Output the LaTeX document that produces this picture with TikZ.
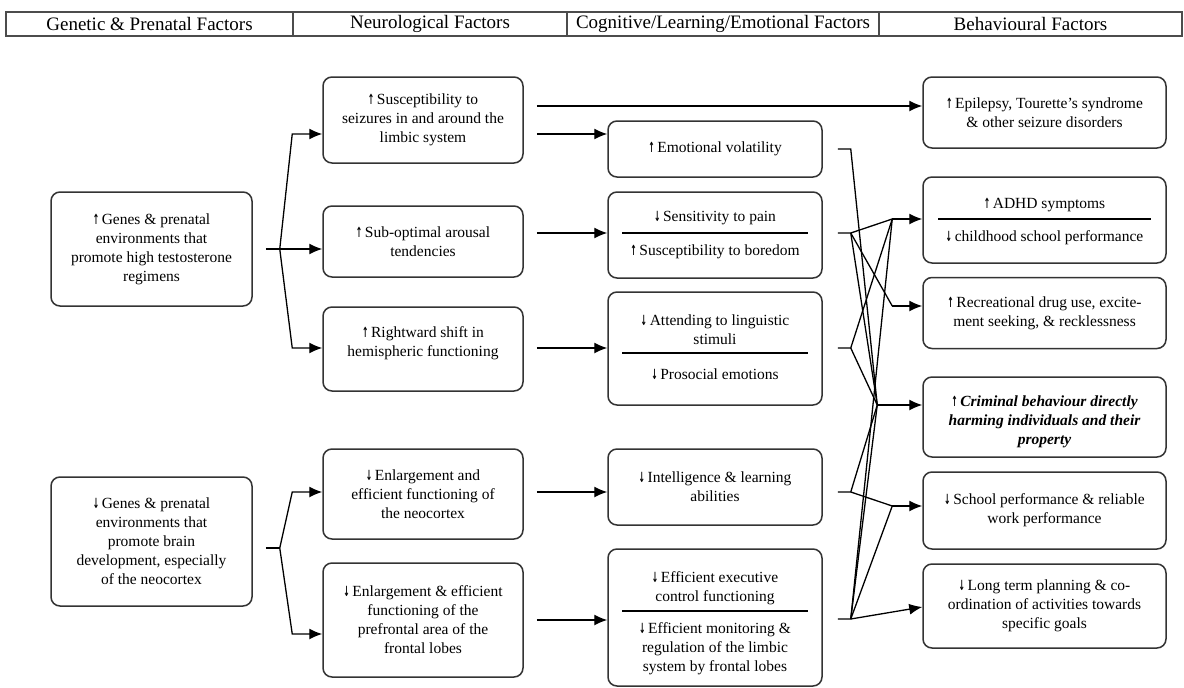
\documentclass[tikz,border=0pt]{standalone}
\usepackage{graphicx}
\usepackage{fontspec}
\setmainfont{Liberation Serif}
\newfontfamily\arwfont{DejaVu Sans}
\usetikzlibrary{arrows.meta,
	calc,
	positioning}
\newcommand{\upa}{\scalebox{0.55}[1]{\arwfont\bfseries\fontsize{14}{14}\selectfont ↑}\,}
\newcommand{\dna}{\scalebox{0.55}[1]{\arwfont\bfseries\fontsize{14}{14}\selectfont ↓}\,}
\tikzstyle{hd}=[draw=black!70, line width=1.2pt, inner sep=0, minimum height=24pt,
		font=\fontsize{19}{22}\selectfont]
\tikzstyle{bx}=[draw=black!80, line width=1.5pt, rounded corners=9pt, inner sep=0,
		align=center, font=\fontsize{15.5}{19}\selectfont]
\tikzstyle{tx}=[inner sep=0, align=center, font=\fontsize{15.5}{19}\selectfont]
\tikzstyle{dv}=[line width=1.3pt]
\tikzstyle{ln}=[line width=1.3pt]
\tikzstyle{ar}=[line width=1.3pt, -{Latex[length=13pt,width=11pt]}]

\begin{document}
\begin{tikzpicture}[x=1pt,y=-1pt]
                \useasboundingbox (0,0) rectangle (1184,688);
                % header row
                \node[hd, minimum width=287pt] (h1) at (149.5,24) {Genetic \& Prenatal Factors};
                \node[hd, minimum width=274pt] (h2) at (430,24) {Neurological Factors};
                \node[hd, minimum width=312pt] (h3) at (723,24) {Cognitive/Learning/Emotional Factors};
                \node[hd, minimum width=303pt] (h4) at (1030.5,24) {Behavioural Factors};
                % genetic & prenatal
                \node[bx, minimum width=201pt, minimum height=114pt] (g1) at (151.5,249) {\upa Genes \& prenatal\\ environments that\\ promote high testosterone\\ regimens};
                \node[bx, minimum width=201pt, minimum height=129pt] (g2) at (151.5,541.5) {\dna Genes \& prenatal\\ environments that\\ promote brain\\ development, especially\\ of the neocortex};
                % neurological
                \node[bx, minimum width=200pt, minimum height=86pt] (n1) at (423,120) {\upa Susceptibility to\\ seizures in and around the\\ limbic system};
                \node[bx, minimum width=200pt, minimum height=71pt] (n2) at (423,241.5) {\upa Sub-optimal arousal\\ tendencies};
                \node[bx, minimum width=200pt, minimum height=84pt] (n3) at (423,349) {};
                \node[tx] (n3t) at (423,343) {\upa Rightward shift in\\ hemispheric functioning};
                \node[bx, minimum width=200pt, minimum height=90pt] (n4) at (423,494) {\dna Enlargement and\\ efficient functioning of\\ the neocortex};
                \node[bx, minimum width=200pt, minimum height=114pt] (n5) at (423,620) {\dna Enlargement \& efficient\\ functioning of the\\ prefrontal area of the\\ frontal lobes};
                % cognitive / learning / emotional
                \node[bx, minimum width=214pt, minimum height=56pt] (c1) at (715,149) {\upa Emotional volatility};
                \node[bx, minimum width=214pt, minimum height=86pt] (c2) at (715,235) {};
                \node[tx] (c2a) at (715,218) {\dna Sensitivity to pain};
                \node[tx] (c2b) at (715,252) {\upa Susceptibility to boredom};
                \draw[dv] ($(c2.west)+(15,-2)$) -- ($(c2.east)+(-15,-2)$);
                \node[bx, minimum width=214pt, minimum height=113pt] (c3) at (715,348.5) {};
                \node[tx] (c3a) at (715,330) {\dna Attending to linguistic\\ stimuli};
                \node[tx] (c3b) at (715,374) {\dna Prosocial emotions};
                \draw[dv] ($(c3.west)+(15,4.5)$) -- ($(c3.east)+(-15,4.5)$);
                \node[bx, minimum width=214pt, minimum height=76pt] (c4) at (715,487) {\dna Intelligence \& learning\\ abilities};
                \node[bx, minimum width=214pt, minimum height=137pt] (c5) at (715,617.5) {};
                \node[tx] (c5a) at (715,588) {\dna Efficient executive\\ control functioning};
                \node[tx] (c5b) at (715,649) {\dna Efficient monitoring \&\\ regulation of the limbic\\ system by frontal lobes};
                \draw[dv] ($(c5.west)+(15,-6.5)$) -- ($(c5.east)+(-15,-6.5)$);
                % behavioural
                \node[bx, minimum width=243pt, minimum height=71pt] (b1) at (1044.5,112.5) {\upa Epilepsy, Tourette’s syndrome\\ \& other seizure disorders};
                \node[bx, minimum width=243pt, minimum height=86pt] (b2) at (1044.5,220) {};
                \node[tx] (b2a) at (1044.5,205) {\upa ADHD symptoms};
                \node[tx] (b2b) at (1044.5,238) {\dna childhood school performance};
                \draw[dv] ($(b2.west)+(16,-1)$) -- ($(b2.east)+(-16,-1)$);
                \node[bx, minimum width=243pt, minimum height=71pt] (b3) at (1044.5,313) {\upa Recreational drug use, excite-\\ ment seeking, \& recklessness};
                \node[bx, minimum width=243pt, minimum height=80pt] (b4) at (1044.5,417) {};
                \node[tx, font=\fontsize{15.5}{19}\selectfont\bfseries\itshape] (b4t) at (1044.5,422) {{\upshape\upa}Criminal behaviour directly\\ harming individuals and their\\ property};
                \node[bx, minimum width=243pt, minimum height=77pt] (b5) at (1044.5,510.5) {\dna School performance \& reliable\\ work performance};
                \node[bx, minimum width=243pt, minimum height=84pt] (b6) at (1044.5,606) {\dna Long term planning \& co-\\ ordination of activities towards\\ specific goals};
                % genetic -> neurological
                \coordinate (g1j) at ($(g1.east)+(27,0)$);
                \draw[ln] ($(g1.east)+(13,0)$) -- (g1j);
                \draw[ar] (g1j) -- ($(n1.west)+(-30,14)$) -- ($(n1.west)+(0,14)$);
                \draw[ar] (g1j) -- (n2.west |- g1j);
                \draw[ar] (g1j) -- ($(n3.west)+(-30,-1)$) -- ($(n3.west)+(0,-1)$);
                \coordinate (g2j) at ($(g2.east)+(27,6.5)$);
                \draw[ln] ($(g2.east)+(13,6.5)$) -- (g2j);
                \draw[ar] (g2j) -- ($(n4.west)+(-30,-2)$) -- ($(n4.west)+(0,-2)$);
                \draw[ar] (g2j) -- ($(n5.west)+(-30,14)$) -- ($(n5.west)+(0,14)$);
                % neurological -> cognitive
                \draw[ar] ($(n1.east)+(13,-14)$) -- ($(b1.west)+(0,-6.5)$);
                \draw[ar] ($(n1.east)+(13,14)$) -- ($(c1.west)+(0,-15)$);
                \draw[ar] ($(n2.east)+(13,-8.5)$) -- ($(c2.west)+(0,-2)$);
                \draw[ar] ($(n3.east)+(13,-1)$) -- ($(c3.west)+(0,-0.5)$);
                \draw[ar] ($(n4.east)+(13,-2)$) -- ($(c4.west)+(0,5)$);
                \draw[ar] ($(n5.east)+(13,0)$) -- ($(c5.west)+(0,2.5)$);
                % forks on the cognitive side
                \coordinate (fc1) at ($(c1.east)+(28,0)$);
                \coordinate (fc2) at ($(c2.east)+(28,-2)$);
                \coordinate (fc3) at ($(c3.east)+(28,-0.5)$);
                \coordinate (fc4) at ($(c4.east)+(28,5)$);
                \coordinate (fc5) at ($(c5.east)+(28,1.5)$);
                % joins on the behavioural side
                \coordinate (adj) at ($(b2.west)+(-30,-1)$);
                \coordinate (rcj) at ($(b3.west)+(-30,-7)$);
                \coordinate (crj) at ($(b4.west)+(-45,-12)$);
                \coordinate (scj) at ($(b5.west)+(-30,-4.5)$);
                \draw[ar] (adj) -- (adj -| b2.west);
                \draw[ar] (rcj) -- (rcj -| b3.west);
                \draw[ar] (crj) -- (crj -| b4.west);
                \draw[ar] (scj) -- (scj -| b5.west);
                % cognitive -> behavioural
                \draw[ln] ($(c1.east)+(15,0)$) -- (fc1) -- (crj);
                \draw[ln] ($(c2.east)+(15,-2)$) -- (fc2) -- (adj);
                \draw[ln] (fc2) -- (rcj);
                \draw[ln] (fc2) -- (crj);
                \draw[ln] ($(c3.east)+(15,-0.5)$) -- (fc3) -- (adj);
                \draw[ln] (fc3) -- (crj);
                \draw[ln] ($(c4.east)+(15,5)$) -- (fc4) -- (crj);
                \draw[ln] (fc4) -- (scj);
                \draw[ln] ($(c5.east)+(15,1.5)$) -- (fc5) -- (adj);
                \draw[ln] (fc5) -- (crj);
                \draw[ln] (fc5) -- (scj);
                \draw[ar] (fc5) -- ($(b6.west)+(0,1)$);
            \end{tikzpicture}
\end{document}
